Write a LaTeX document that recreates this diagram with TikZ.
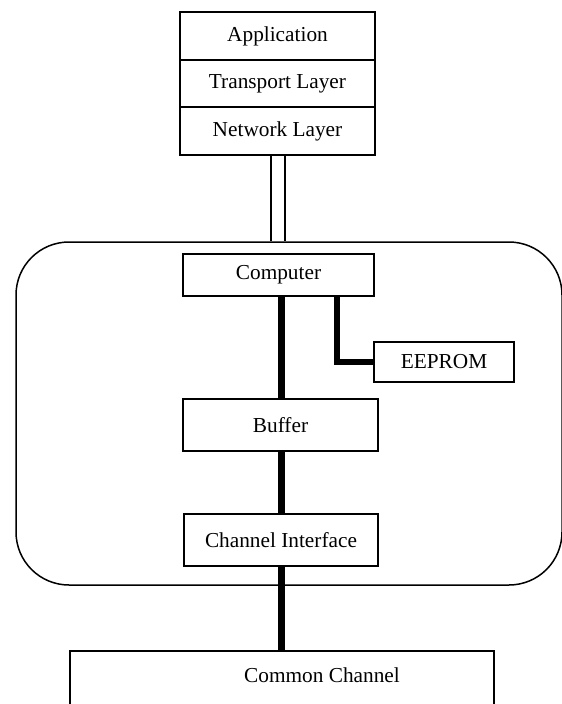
\documentclass[tikz,border=0pt]{standalone}
\usepackage{fontspec}
\setmainfont{Liberation Serif}
\begin{document}
\begin{tikzpicture}[x=1pt,y=1pt,
  box/.style={draw, line width=1.5pt, rectangle, inner sep=0pt, align=center,
    font=\fontsize{21.3}{25}\selectfont},
  bus/.style={line width=6.6pt, line cap=butt, line join=miter},
  link/.style={line width=1.4pt}]
\useasboundingbox (0,0) rectangle (562,-704);
\clip (0,0) rectangle (562,-704);
% protocol stack
\node[box, minimum width=195pt, minimum height=48pt] (app) at (277.5,-36) {Application};
\node[box, minimum width=195pt, minimum height=47pt] (trans) at (277.5,-83.5) {Transport Layer};
\node[box, minimum width=195pt, minimum height=48pt] (net) at (277.5,-131) {Network Layer};
% device enclosure
\node[draw, line width=1.5pt, rounded corners=53pt, minimum width=546pt, minimum height=343pt, inner sep=0pt] (dev) at (289,-413.5) {};
% inner boxes
\node[box, minimum width=191pt, minimum height=42pt] (comp) at (278.5,-275) {Computer};
\node[box, minimum width=140pt, minimum height=40pt] (eep) at (444,-362) {EEPROM};
\node[box, minimum width=195pt, minimum height=52pt] (buf) at (280.5,-425) {Buffer};
\node[box, minimum width=194pt, minimum height=52pt] (ci) at (281,-540) {Channel Interface};
\node[box, minimum width=424pt, minimum height=79pt] (cc) at (282,-690.5) {};
\node[font=\fontsize{21.3}{25}\selectfont, inner sep=0pt] (cclabel) at (322,-675) {Common Channel};
% connectors
\coordinate (dl1) at (271,0);
\coordinate (dl2) at (285,0);
\draw[link] (net.south -| dl1) -- (dev.north -| dl1);
\draw[link] (net.south -| dl2) -- (dev.north -| dl2);
\coordinate (bx) at (281.5,0);
\coordinate (ex) at (337,0);
\draw[bus] (comp.south -| bx) -- (buf.north -| bx);
\draw[bus] (buf.south -| bx) -- (ci.north -| bx);
\draw[bus] (ci.south -| bx) -- (cc.north -| bx);
\draw[bus] (comp.south -| ex) |- (eep.west);
\end{tikzpicture}
\end{document}
